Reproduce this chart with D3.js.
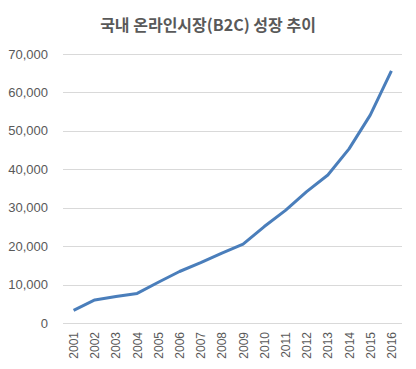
<!DOCTYPE html>
<html>
<head>
<meta charset="utf-8">
<script src="https://cdn.jsdelivr.net/npm/d3@7"></script>
<style>
  body { margin: 0; background: #fff; }
</style>
</head>
<body>
<script>
const years = ['2001', '2002', '2003', '2004', '2005', '2006', '2007', '2008',
  '2009', '2010', '2011', '2012', '2013', '2014', '2015', '2016'];
const sales = [3300, 6000, 6900, 7700, 10600, 13400, 15700, 18200,
  20500, 25100, 29300, 34200, 38500, 45300, 54100, 65600];
const yTicks = [0, 10000, 20000, 30000, 40000, 50000, 60000, 70000];
const title = '국내 온라인시장(B2C) 성장 추이';

const width = 416;
const height = 369;
const margin = { top: 54, right: 14, bottom: 46, left: 63 };

const svg = d3.select('body')
  .append('svg')
  .attr('width', width)
  .attr('height', height);

const x = d3.scaleBand()
  .domain(years)
  .range([margin.left, width - margin.right]);

const y = d3.scaleLinear()
  .domain([0, 70000])
  .range([height - margin.bottom, margin.top]);

svg.append('text')
  .attr('x', 208)
  .attr('y', 31)
  .attr('text-anchor', 'middle')
  .attr('font-family', '"Noto Sans CJK KR", sans-serif')
  .attr('font-size', 16)
  .attr('font-weight', 'bold')
  .attr('fill', '#595959')
  .text(title);

// gridlines
svg.append('g')
  .selectAll('line')
  .data(yTicks)
  .enter()
  .append('line')
  .attr('x1', margin.left)
  .attr('x2', width - margin.right)
  .attr('y1', d => Math.round(y(d)) + 0.5)
  .attr('y2', d => Math.round(y(d)) + 0.5)
  .attr('stroke', '#d9d9d9')
  .attr('stroke-width', 1);

// y labels
svg.append('g')
  .selectAll('text')
  .data(yTicks)
  .enter()
  .append('text')
  .attr('x', 48)
  .attr('y', d => y(d) + 4.5)
  .attr('text-anchor', 'end')
  .attr('font-family', '"Liberation Sans", Arial, sans-serif')
  .attr('font-size', 13)
  .attr('fill', '#595959')
  .text(d => d3.format(',')(d));

// x labels
svg.append('g')
  .selectAll('text')
  .data(years)
  .enter()
  .append('text')
  .attr('transform', d => `translate(${x(d) + x.bandwidth() / 2 + 4.5},${332}) rotate(-90)`)
  .attr('text-anchor', 'end')
  .attr('font-family', '"Liberation Sans", Arial, sans-serif')
  .attr('font-size', 12)
  .attr('fill', '#595959')
  .text(d => d);

const line = d3.line()
  .x((d, i) => x(years[i]) + x.bandwidth() / 2)
  .y(d => y(d));

svg.append('path')
  .datum(sales)
  .attr('d', line)
  .attr('fill', 'none')
  .attr('stroke', '#4a7ebb')
  .attr('stroke-width', 3)
  .attr('stroke-linejoin', 'round');
</script>
</body>
</html>
